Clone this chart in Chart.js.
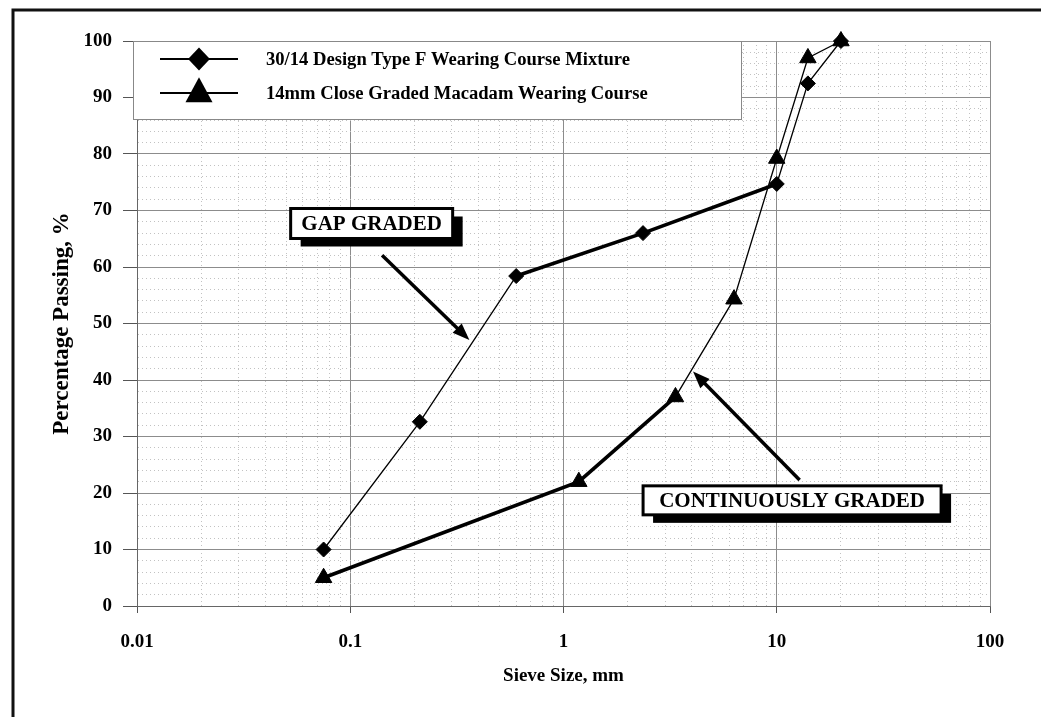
<!DOCTYPE html>
<html>
<head>
<meta charset="utf-8">
<title>Grading curves</title>
<script src="https://cdn.jsdelivr.net/npm/chart.js@4.4.0/dist/chart.umd.min.js"></script>
<style>
  html, body { margin: 0; padding: 0; background: #fff; }
  canvas { display: block; }
</style>
</head>
<body>
<canvas id="grading" width="1041" height="717"></canvas>
<script>
// Sieve sizes (mm) and percentage passing for each grading
const sieveTypeF = [0.075, 0.212, 0.6, 2.36, 10, 14, 20];
const passingTypeF = [10, 32.6, 58.4, 66, 74.7, 92.5, 100];
const sieveMacadam = [0.075, 1.18, 3.35, 6.3, 10, 14, 20];
const passingMacadam = [5, 22, 37, 54.3, 79.2, 97, 100];

const seriesNames = [
  '30/14 Design Type F Wearing Course Mixture',
  '14mm Close Graded Macadam Wearing Course'
];

// Axis ticks: labelled decades / tens, with unlabelled minor divisions
const xMajorTicks = [0.01, 0.1, 1, 10, 100];
const yMajorTicks = [0, 10, 20, 30, 40, 50, 60, 70, 80, 90, 100];
const yMinorStep = 2;

const FONT = "'Liberation Serif', 'Times New Roman', serif";

// Segments drawn heavy to pick out the characteristic part of each curve
const heavySegmentsTypeF = [2, 3];
const heavySegmentsMacadam = [0, 1];
const THIN = 1.3, HEAVY = 3.6;

// Callout labels, anchored in data coordinates
const callouts = [
  { text: 'GAP GRADED', x: 0.126, y: 67.7, w: 162, h: 30,
    arrowFrom: { x: 0.141, y: 62.1 }, arrowTo: { x: 0.362, y: 47.1 } },
  { text: 'CONTINUOUSLY GRADED', x: 11.8, y: 18.7, w: 298, h: 29,
    arrowFrom: { x: 12.8, y: 22.3 }, arrowTo: { x: 4.05, y: 41.5 } }
];

const toPoints = (xs, ys) => xs.map((x, i) => ({ x, y: ys[i] }));

const isMajor = c => !!(c.tick && c.tick.major);

function drawArrow(ctx, x0, y0, x1, y1) {
  const ang = Math.atan2(y1 - y0, x1 - x0);
  const len = 17, half = 6.5;
  const bx = x1 - Math.cos(ang) * len, by = y1 - Math.sin(ang) * len;
  ctx.save();
  ctx.strokeStyle = '#000';
  ctx.fillStyle = '#000';
  ctx.lineWidth = 3.5;
  ctx.beginPath();
  ctx.moveTo(x0, y0);
  ctx.lineTo(bx + Math.cos(ang) * 3, by + Math.sin(ang) * 3);
  ctx.stroke();
  ctx.beginPath();
  ctx.moveTo(x1, y1);
  ctx.lineTo(bx - Math.sin(ang) * half, by + Math.cos(ang) * half);
  ctx.lineTo(bx + Math.sin(ang) * half, by - Math.cos(ang) * half);
  ctx.closePath();
  ctx.fill();
  ctx.restore();
}

function drawDiamond(ctx, x, y, r) {
  ctx.beginPath();
  ctx.moveTo(x, y - r);
  ctx.lineTo(x + r * 0.95, y);
  ctx.lineTo(x, y + r);
  ctx.lineTo(x - r * 0.95, y);
  ctx.closePath();
  ctx.fill();
}

function drawTriangle(ctx, x, y, w, h) {
  ctx.beginPath();
  ctx.moveTo(x, y - h * 2 / 3);
  ctx.lineTo(x + w / 2, y + h / 3);
  ctx.lineTo(x - w / 2, y + h / 3);
  ctx.closePath();
  ctx.fill();
}

const decorations = {
  id: 'decorations',
  beforeDraw(chart) {
    const { ctx, width, height } = chart;
    ctx.save();
    ctx.fillStyle = '#fff';
    ctx.fillRect(0, 0, width, height);
    // figure frame along the top and left edges
    ctx.strokeStyle = '#111';
    ctx.lineWidth = 3;
    ctx.beginPath();
    ctx.moveTo(width, 10);
    ctx.lineTo(13, 10);
    ctx.lineTo(13, height);
    ctx.stroke();
    ctx.restore();
  },
  beforeDatasetsDraw(chart) {
    // legend panel in the top-left of the plot
    const { ctx, chartArea } = chart;
    const left = chartArea.left - 4, top = chartArea.top, right = 741, bottom = 119;
    ctx.save();
    ctx.fillStyle = '#fff';
    ctx.fillRect(left, top, right - left, bottom - top);
    ctx.strokeStyle = '#888';
    ctx.lineWidth = 1;
    ctx.strokeRect(left + 0.5, top + 0.5, right - left, bottom - top);

    const rows = [top + 18, top + 52];
    ctx.strokeStyle = '#000';
    ctx.fillStyle = '#000';
    ctx.lineWidth = 2;
    rows.forEach((ry, i) => {
      ctx.beginPath();
      ctx.moveTo(160, ry);
      ctx.lineTo(238, ry);
      ctx.stroke();
      if (i === 0) drawDiamond(ctx, 199, ry, 11.5);
      else drawTriangle(ctx, 199, ry + 1, 27, 25);
      ctx.font = 'bold 18.6px ' + FONT;
      ctx.textBaseline = 'middle';
      ctx.textAlign = 'left';
      ctx.fillText(seriesNames[i], 266, ry + 1);
    });
    ctx.restore();
  },
  afterDatasetsDraw(chart) {
    const { ctx, scales: { x, y } } = chart;
    ctx.save();
    callouts.forEach(c => {
      drawArrow(ctx,
        x.getPixelForValue(c.arrowFrom.x), y.getPixelForValue(c.arrowFrom.y),
        x.getPixelForValue(c.arrowTo.x), y.getPixelForValue(c.arrowTo.y));
      const cx = x.getPixelForValue(c.x), cy = y.getPixelForValue(c.y);
      const l = cx - c.w / 2, t = cy - c.h / 2;
      ctx.fillStyle = '#000';
      ctx.fillRect(l + 10, t + 8, c.w, c.h);
      ctx.fillStyle = '#fff';
      ctx.fillRect(l, t, c.w, c.h);
      ctx.strokeStyle = '#000';
      ctx.lineWidth = 3;
      ctx.strokeRect(l, t, c.w, c.h);
      ctx.fillStyle = '#000';
      ctx.font = 'bold 21px ' + FONT;
      ctx.textAlign = 'center';
      ctx.textBaseline = 'middle';
      ctx.fillText(c.text, cx, cy + 1);
    });
    ctx.restore();
  }
};

const gridOptions = tickLength => ({
  color: c => isMajor(c) ? '#8c8c8c' : '#c2c2c2',
  lineWidth: 1,
  tickLength,
  tickColor: c => isMajor(c) ? '#555' : 'rgba(0,0,0,0)',
  tickWidth: 1
});

const borderOptions = {
  display: true,
  color: '#666',
  width: 1,
  dash: c => (c.tick && !c.tick.major) ? [1, 3] : []
};

new Chart(document.getElementById('grading'), {
  type: 'line',
  data: {
    datasets: [
      {
        label: seriesNames[0],
        data: toPoints(sieveTypeF, passingTypeF),
        borderColor: '#000',
        backgroundColor: '#000',
        pointStyle: 'rectRot',
        pointRadius: 7.5,
        pointBorderWidth: 1,
        borderWidth: THIN,
        segment: { borderWidth: c => heavySegmentsTypeF.includes(c.p0DataIndex) ? HEAVY : THIN },
        clip: false
      },
      {
        label: seriesNames[1],
        data: toPoints(sieveMacadam, passingMacadam),
        borderColor: '#000',
        backgroundColor: '#000',
        pointStyle: 'triangle',
        pointRadius: 9.5,
        pointBorderWidth: 1,
        borderWidth: THIN,
        segment: { borderWidth: c => heavySegmentsMacadam.includes(c.p0DataIndex) ? HEAVY : THIN },
        clip: false
      }
    ]
  },
  options: {
    responsive: false,
    animation: false,
    devicePixelRatio: 1,
    layout: { padding: { top: 41, right: 51, left: 0, bottom: 0 } },
    plugins: { legend: { display: false }, tooltip: { enabled: false } },
    scales: {
      x: {
        type: 'logarithmic',
        min: xMajorTicks[0],
        max: xMajorTicks[xMajorTicks.length - 1],
        afterBuildTicks: scale => {
          const ticks = [];
          xMajorTicks.forEach((d, i) => {
            ticks.push({ value: d, major: true });
            if (i < xMajorTicks.length - 1) {
              for (let k = 2; k <= 9; k++) ticks.push({ value: d * k, major: false });
            }
          });
          scale.ticks = ticks;
        },
        afterFit: scale => { scale.height = 111; },
        ticks: {
          autoSkip: false,
          maxRotation: 0,
          padding: 18,
          color: '#000',
          font: { family: FONT, size: 19, weight: 'bold' },
          callback: (v, i, t) => (t[i] && t[i].major) ? String(v) : ''
        },
        grid: gridOptions(7),
        border: borderOptions,
        title: {
          display: true,
          text: 'Sieve Size, mm',
          color: '#000',
          font: { family: FONT, size: 19, weight: 'bold' },
          padding: { top: 0, bottom: 29.6 }
        }
      },
      y: {
        type: 'linear',
        min: yMajorTicks[0],
        max: yMajorTicks[yMajorTicks.length - 1],
        afterBuildTicks: scale => {
          const ticks = [];
          const top = yMajorTicks[yMajorTicks.length - 1];
          for (let v = yMajorTicks[0]; v <= top; v += yMinorStep) {
            ticks.push({ value: v, major: yMajorTicks.includes(v) });
          }
          scale.ticks = ticks;
        },
        afterFit: scale => { scale.width = 137; },
        ticks: {
          autoSkip: false,
          padding: 11,
          color: '#000',
          font: { family: FONT, size: 19, weight: 'bold' },
          callback: (v, i, t) => (t[i] && t[i].major) ? String(v) : ''
        },
        grid: gridOptions(14),
        border: borderOptions,
        title: {
          display: true,
          text: 'Percentage Passing, %',
          color: '#000',
          font: { family: FONT, size: 23, weight: 'bold' },
          padding: { top: 48, bottom: 0 }
        }
      }
    }
  },
  plugins: [decorations]
});
</script>
</body>
</html>
